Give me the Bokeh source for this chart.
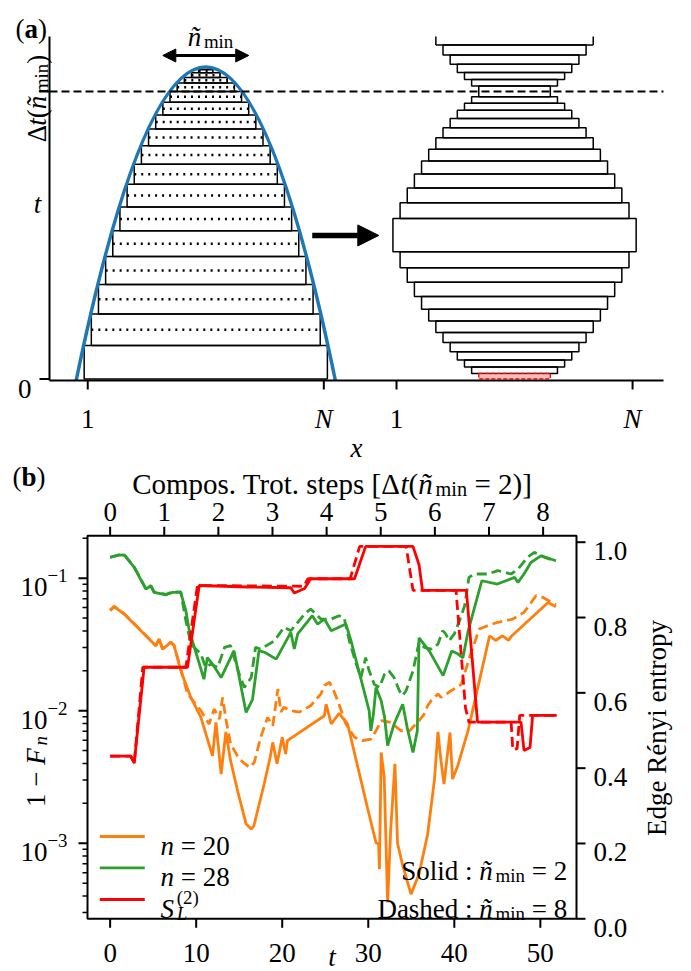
import math
from bokeh.plotting import figure
from bokeh.models import Range1d, LinearScale, Label, Arrow, NormalHead
from bokeh.embed import file_html
from bokeh.resources import INLINE

FONT = "Liberation Serif"
FS = 27
ORANGE = "#ff7f0e"
GREEN = "#2ca02c"
BLUE = "#1f77b4"

# ---------------- panel (a): Trotter-step schematic ----------------
n_sites = 34
# duration of each layer of the light-cone staircase (outermost first)
level_durations = [0.116, 0.110, 0.102, 0.098, 0.089, 0.083, 0.079, 0.070, 0.064,
                   0.058, 0.049, 0.044, 0.038, 0.029, 0.019, 0.017, 0.010]
nmin_level = 12            # layer whose width equals n_min
right_offset = 1.308       # where the second (symmetrised) drawing starts on x
parabola_center = 0.5
parabola_halfwidth = 0.549
parabola_peak = 1.0845

# ---------------- panel (b): infidelity and edge entropy ----------------
t_n20_solid = [0.0, 0.47, 1.63, 3.57, 5.31, 5.70, 6.09, 7.06, 7.44, 8.22, 9.38, 10.55, 11.9,
               12.3, 12.9, 13.45, 14.0, 14.8, 15.8, 16.4, 16.7, 17.9, 18.6, 18.9, 19.4, 20.0,
               20.4, 20.6, 24.9, 25.1, 25.7, 26.6, 27.6, 28.8, 29.9, 30.9, 31.2, 31.3, 31.5,
               31.85, 32.25, 32.6, 33.1, 33.4, 34.0, 34.97, 35.9, 36.9, 37.7, 38.1, 38.4, 38.8,
               39.5, 39.8, 40.4, 41.6, 44.1, 44.8, 45.6, 46.3, 46.6, 50.9, 51.8]
f_n20_solid = [0.0569, 0.0610, 0.0537, 0.0402, 0.0309, 0.0348, 0.0292, 0.0328, 0.0309, 0.0200,
               0.0126, 0.00891, 0.00457, 0.00817, 0.00333, 0.00692, 0.00420, 0.00251, 0.00140,
               0.00128, 0.00135, 0.00280, 0.00445, 0.00577, 0.00398, 0.00631, 0.00471, 0.00594,
               0.00916, 0.0112, 0.00794, 0.00955, 0.00794, 0.00372, 0.00186, 0.00101, 0.000986,
               0.000638, 0.00484, 0.00316, 0.000357, 0.00124, 0.00398, 0.00100, 0.00068,
               0.000413, 0.000585, 0.00117, 0.00305, 0.00692, 0.00447, 0.00280, 0.00685,
               0.00305, 0.00385, 0.00708, 0.0368, 0.0339, 0.0368, 0.0339, 0.0363, 0.0656, 0.0610]

t_n20_dashed = [0.0, 0.47, 1.63, 3.57, 5.31, 5.70, 6.09, 7.06, 7.44, 8.22, 9.0, 10.55, 11.5, 12.1,
                12.7, 13.07, 13.45, 14.0, 15.0, 16.2, 16.75, 17.5, 18.3, 18.9, 19.5, 19.85, 20.2,
                21.0, 22.0, 23.3, 24.5, 24.9, 25.5, 26.0, 26.6, 27.4, 28.4, 29.35, 30.3, 30.9,
                31.5, 32.6, 33.8, 34.8, 35.9, 36.5, 36.9, 37.3, 38.1, 38.45, 39.6, 40.8, 41.9,
                42.9, 43.9, 45.05, 46.8, 48.1, 49.5, 50.3, 51.8]
f_n20_dashed = [0.0575, 0.0615, 0.0540, 0.0405, 0.0310, 0.0350, 0.0293, 0.0330, 0.0312, 0.0205,
                0.0134, 0.0100, 0.00794, 0.0103, 0.00865, 0.0126, 0.00865, 0.00562, 0.00432,
                0.00373, 0.00407, 0.00631, 0.00891, 0.00771, 0.0146, 0.00977, 0.0106, 0.0100,
                0.00977, 0.0109, 0.0134, 0.0155, 0.0164, 0.0141, 0.0112, 0.00794, 0.00631,
                0.00594, 0.00611, 0.00706, 0.00841, 0.00817, 0.00706, 0.00706, 0.00841, 0.00944,
                0.0109, 0.0119, 0.0134, 0.0126, 0.0141, 0.0158, 0.0268, 0.0414, 0.0439, 0.0465,
                0.0492, 0.0552, 0.0738, 0.0716, 0.0631]

t_n28_solid = [0.0, 1.0, 1.63, 2.8, 4.15, 4.73, 5.1, 6.5, 7.25, 8.2, 8.8, 9.2, 10.15, 10.9, 11.3,
               11.9, 12.9, 13.65, 14.4, 15.8, 16.55, 17.3, 18.0, 19.3, 21.0, 21.4, 21.8, 23.5,
               24.1, 24.9, 25.7, 27.4, 28.0, 28.8, 29.5, 30.1, 30.3, 30.6, 30.9, 31.5, 31.9,
               32.25, 33.0, 34.0, 34.6, 35.2, 35.7, 35.9, 37.1, 38.7, 39.7, 40.4, 41.0, 41.6,
               43.2, 45.0, 47.0, 47.4, 48.1, 48.9, 50.1, 51.8]
f_n28_solid = [0.1435, 0.1496, 0.1503, 0.1208, 0.0828, 0.0877, 0.0782, 0.0750, 0.0782, 0.0782,
               0.0569, 0.0402, 0.0252, 0.0173, 0.0252, 0.0225, 0.0178, 0.0225, 0.0284, 0.0097,
               0.0122, 0.0284, 0.0275, 0.0245, 0.0390, 0.0292, 0.0380, 0.0521, 0.0451, 0.0492,
               0.0402, 0.0452, 0.0337, 0.0212, 0.0142, 0.0100, 0.00706, 0.00944, 0.0150, 0.0119,
               0.00891, 0.00545, 0.00794, 0.0112, 0.00706, 0.00484, 0.00706, 0.0355, 0.0282,
               0.0184, 0.0282, 0.0269, 0.0251, 0.0398, 0.0957, 0.0904, 0.1014, 0.0931, 0.1076,
               0.1315, 0.1479, 0.1355]

t_n28_dashed = [0.0, 1.0, 1.63, 2.8, 4.15, 4.73, 5.1, 6.5, 7.25, 8.2, 8.8, 9.4, 10.55, 11.1, 11.7,
                12.5, 13.3, 14.0, 15.0, 15.6, 16.4, 16.9, 17.5, 19.1, 20.2, 21.0, 22.6, 23.3,
                24.5, 25.7, 26.6, 27.2, 27.8, 28.6, 29.15, 29.7, 30.1, 30.7, 31.3, 31.9, 32.4,
                33.0, 33.6, 34.0, 34.4, 35.2, 35.9, 36.5, 37.3, 38.1, 38.65, 39.0, 39.4, 40.0,
                40.6, 41.2, 41.7, 42.3, 43.9, 45.05, 46.6, 47.4, 48.5, 49.3, 50.5, 51.8]
f_n28_dashed = [0.1440, 0.1500, 0.1508, 0.1215, 0.0835, 0.0880, 0.0790, 0.0755, 0.0790, 0.0790,
                0.0478, 0.0318, 0.0268, 0.0212, 0.0225, 0.0212, 0.0301, 0.0310, 0.0189, 0.0150,
                0.0178, 0.0301, 0.0292, 0.0337, 0.0426, 0.0402, 0.0537, 0.0586, 0.0492, 0.0492,
                0.0521, 0.0501, 0.0337, 0.0225, 0.0178, 0.0252, 0.0200, 0.0158, 0.0150, 0.0189,
                0.0200, 0.0178, 0.0142, 0.0130, 0.0142, 0.0200, 0.0328, 0.0301, 0.0292, 0.0318,
                0.0402, 0.0380, 0.0337, 0.0380, 0.0478, 0.0619, 0.1014, 0.1076, 0.1076, 0.1140,
                0.1076, 0.1172, 0.1435, 0.1567, 0.1435, 0.1349]

t_renyi_solid = [0, 2.4, 2.8, 3.95, 9.0, 10.35, 16.0, 21.0, 21.4, 22.6, 23.3, 28.4, 29.7, 35.2,
                 35.9, 36.3, 41.4, 42.7, 47.75, 48.1, 48.8, 49.1, 51.9]
s_renyi_solid = [0.432, 0.432, 0.413, 0.668, 0.668, 0.885, 0.881, 0.879, 0.865, 0.877, 0.903,
                 0.903, 0.989, 0.989, 0.94, 0.872, 0.872, 0.522, 0.522, 0.447, 0.455, 0.540, 0.540]
t_renyi_dashed = [0, 2.4, 2.8, 3.8, 8.8, 10.15, 22.5, 23.0, 27.9, 29.0, 34.4, 35.2, 40.2, 41.3,
                  41.7, 46.6, 46.8, 47.3, 47.6, 51.9]
s_renyi_dashed = [0.432, 0.432, 0.413, 0.668, 0.668, 0.885, 0.883, 0.903, 0.903, 0.989, 0.989,
                  0.872, 0.872, 0.56, 0.522, 0.522, 0.449, 0.452, 0.540, 0.540]

step_length = 6.29          # one composite Trotter step in units of t
t_ticks = [0, 10, 20, 30, 40, 50]
step_ticks = [0, 1, 2, 3, 4, 5, 6, 7, 8]
entropy_ticks = [0.0, 0.2, 0.4, 0.6, 0.8, 1.0]
infidelity_ticks = [1e-3, 1e-2, 1e-1]
infidelity_exponents = ["3", "2", "1"]

# ---------------- rich text (sub/superscripts) built from Labels ----------------
RM = {' ': 250, '(': 333, ')': 333, '[': 333, ']': 333, '.': 250, ':': 278, '=': 564,
      '\u2212': 564, 'a': 444, 'b': 500, 'c': 444, 'd': 500, 'e': 444, 'f': 333, 'g': 500,
      'h': 500, 'i': 278, 'j': 278, 'k': 500, 'l': 278, 'm': 778, 'n': 500, 'o': 500,
      'p': 500, 'q': 500, 'r': 333, 's': 389, 't': 278, 'u': 500, 'v': 500, 'w': 722,
      'x': 500, 'y': 500, 'z': 444, 'C': 667, 'D': 722, 'E': 611, 'F': 556, 'L': 611,
      'N': 722, 'R': 667, 'S': 556, 'T': 611, '\u00e9': 444, '\u00f1': 500, '\u0394': 612}
for _d in "0123456789":
    RM[_d] = 500
IT = {'n': 500, 't': 278, 'x': 444, 'F': 611, 'N': 667, 'S': 500, 'L': 556, '\u00f1': 500}
BF = {'a': 500, 'b': 556}


def text_width(s, style):
    tab = IT if style in ("it", "subit") else (BF if style == "bf" else RM)
    return sum(tab.get(c, RM.get(c, 500)) for c in s) / 1000.0


def rich(fig, canvas_h, X, Y, pieces, size=FS, align="left", vertical=False, color="black"):
    """Place a run of text pieces; X, Y is the baseline anchor in canvas pixels (y down)."""
    widths = []
    for i, pc in enumerate(pieces):
        txt, st = pc[0], pc[1]
        adv = pc[2] if len(pc) > 2 else True
        sc = 0.7 if st in ("sub", "subit", "sup") else 1.0
        w = text_width(txt, st) * size * sc if adv else 0.0
        # small italic correction before a following script
        if st == "it" and i + 1 < len(pieces) and pieces[i + 1][1] in ("sub", "subit", "sup"):
            w += 0.1 * size
        widths.append(w)
    total = sum(widths)
    pos = {"left": 0.0, "center": -total / 2.0, "right": -total}[align]
    for pc, w in zip(pieces, widths):
        txt, st = pc[0], pc[1]
        small = st in ("sub", "subit", "sup")
        sz = size * 0.7 if small else size
        rise = -0.2 * size if st in ("sub", "subit") else (0.42 * size if st == "sup" else 0.0)
        fstyle = "italic" if st in ("it", "subit") else ("bold" if st == "bf" else "normal")
        lead = len(txt) - len(txt.lstrip(" "))
        shift = text_width(" " * lead, st) * sz
        body = txt.strip(" ")
        p0 = pos + shift
        if body:
            if vertical:
                sx, sy, ang = X - rise, canvas_h - Y + p0, math.pi / 2
            else:
                sx, sy, ang = X + p0, canvas_h - Y + rise, 0.0
            fig.add_layout(Label(x=sx, y=sy, x_units="screen", y_units="screen", text=body,
                                 angle=ang, text_font=FONT, text_font_size=f"{sz:.1f}px",
                                 text_font_style=fstyle, text_color=color,
                                 text_align="left", text_baseline="alphabetic"))
        pos += w


def bare_figure(w, h, xr, yr, **kw):
    f = figure(width=w, height=h, x_range=xr, y_range=yr, output_backend="svg",
               toolbar_location=None, min_border=0, x_axis_location=None,
               y_axis_location=None, **kw)
    f.outline_line_color = None
    f.grid.visible = False
    return f


# ================= panel (a) =================
WA, HA = 691, 462
A_L, A_R, A_T, A_B = 49.0, 663.0, 36.0, 380.0     # plotting box inside the canvas (px)
AX0, AX1 = -0.162, 2.439
AY0, AY1 = -0.0056, 1.191
kxa = (A_R - A_L) / (AX1 - AX0)
kya = (A_B - A_T) / (AY1 - AY0)
pa = bare_figure(WA, HA, Range1d(AX0 - A_L / kxa, AX1 + (WA - A_R) / kxa),
                 Range1d(AY0 - (HA - A_B) / kya, AY1 + A_T / kya))

site_w = 1.0 / (n_sites - 1)
lefts, rights, bottoms, tops = [], [], [], []
acc = 0.0
for k, d in enumerate(level_durations):
    lefts.append((k - 0.5) * site_w)
    rights.append((n_sites - 1 - k + 0.5) * site_w)
    bottoms.append(acc)
    tops.append(acc + d)
    acc += d
dt_nmin = tops[nmin_level]

pa.quad(left=lefts, right=rights, bottom=bottoms, top=tops,
        fill_color=None, line_color="black", line_width=1.5)
mids = [(b + t) / 2 for b, t in zip(bottoms[1:], tops[1:])]
pa.segment(x0=lefts[1:], y0=mids, x1=rights[1:], y1=mids,
           line_color="black", line_width=2.5, line_dash="2 5")

# symmetrised (second-order) stack on the right
half = [d / 2 for d in level_durations]
boxes = []


def add_box(k, bottom, height):
    boxes.append((right_offset + (k - 0.5) * site_w,
                  right_offset + (n_sites - 1 - k + 0.5) * site_w,
                  bottom, bottom + height))


yb = half[nmin_level]
inner = list(range(nmin_level - 1, 0, -1))
while yb < AY1:
    for k in inner:
        add_box(k, yb, half[k])
        yb += half[k]
    add_box(0, yb, level_durations[0])
    yb += level_durations[0]
    for k in reversed(inner):
        add_box(k, yb, half[k])
        yb += half[k]
    add_box(nmin_level, yb, level_durations[nmin_level])
    yb += level_durations[nmin_level]

full = [b for b in boxes if b[3] <= AY1]
cut = [b for b in boxes if b[2] < AY1 < b[3]]
pa.quad(left=[b[0] for b in full], right=[b[1] for b in full],
        bottom=[b[2] for b in full], top=[b[3] for b in full],
        fill_color=None, line_color="black", line_width=1.5)
for b in cut:   # boxes running out of the top of the panel: open top
    pa.segment(x0=[b[0], b[0], b[1]], y0=[b[2], b[2], b[2]],
               x1=[b[1], b[0], b[1]], y1=[b[2], AY1, AY1],
               line_color="black", line_width=1.5)

# first half-layer, absorbed into the preceding step
pa.quad(left=[right_offset + (nmin_level - 0.5) * site_w],
        right=[right_offset + (n_sites - 1 - nmin_level + 0.5) * site_w],
        bottom=[0.0], top=[half[nmin_level]], fill_color="#ff8080",
        fill_alpha=0.55, line_color="red", line_width=1.3, line_dash="4 2")

# light-cone boundary
pa.quadratic(x0=[parabola_center - parabola_halfwidth], y0=[AY0],
             x1=[parabola_center + parabola_halfwidth], y1=[AY0],
             cx=[parabola_center], cy=[2 * parabola_peak - AY0],
             line_color=BLUE, line_width=3.5)

pa.segment(x0=[AX0], y0=[dt_nmin], x1=[AX1], y1=[dt_nmin],
           line_color="black", line_width=2, line_dash="8 4")

pa.add_layout(Arrow(start=NormalHead(size=13, fill_color="black", line_color="black"),
                    end=NormalHead(size=13, fill_color="black", line_color="black"),
                    x_start=0.318, y_start=1.125, x_end=0.682, y_end=1.125,
                    line_width=3, line_color="black"))
pa.add_layout(Arrow(end=NormalHead(size=21, fill_color="black", line_color="black"),
                    x_start=0.951, y_start=0.499, x_end=1.233, y_end=0.499,
                    line_width=5.5, line_color="black"))

# axes of panel (a)
pa.segment(x0=[AX0, AX0], y0=[AY0, AY0], x1=[AX0, AX1], y1=[AY1, AY0],
           line_color="black", line_width=2)
a_xticks = [0, 1, right_offset, right_offset + 1]
pa.segment(x0=a_xticks, y0=[AY0] * 4, x1=a_xticks, y1=[AY0 - 9 / kya] * 4,
           line_color="black", line_width=2)
pa.segment(x0=[AX0] * 2, y0=[0, dt_nmin], x1=[AX0 - 10 / kxa] * 2, y1=[0, dt_nmin],
           line_color="black", line_width=2)


def ax_px(x):
    return A_L + (x - AX0) * kxa


rich(pa, HA, 15, 28, [("(", "rm"), ("a", "bf"), (")", "rm")])
rich(pa, HA, 210, 36, [("\u00f1", "it"), ("min", "sub")], align="center")
rich(pa, HA, 31, 388, [("0", "rm")], align="right")
rich(pa, HA, 37, 203, [("t", "it")], align="center")
rich(pa, HA, 36, 98, [("\u0394", "rm"), ("t", "it"), ("(", "rm"), ("\u00f1", "it"),
                      ("min", "sub"), (")", "rm")], align="center", vertical=True)
for xv, lab in zip(a_xticks, [("1", "rm"), ("N", "it"), ("1", "rm"), ("N", "it")]):
    rich(pa, HA, ax_px(xv), 418, [lab], align="center")
rich(pa, HA, (A_L + A_R) / 2, 447, [("x", "it")], align="center")

# ================= panel (b) =================
OFF = HA                                           # panel (b) starts below panel (a)
WB, HB = 691, 971 - HA
B_L, B_R, B_T, B_B = 87.0, 576.0, 535.3 - OFF, 918.3 - OFF
T0, T1 = -2.63, 54.2
F0, F1 = 2.69e-4, 0.209
S0, S1 = 0.0, 1.017
kxb = (B_R - B_L) / (T1 - T0)
dec = (B_B - B_T) / (math.log10(F1) - math.log10(F0))
ksb = (B_B - B_T) / (S1 - S0)
pb = bare_figure(WB, HB, Range1d(T0 - B_L / kxb, T1 + (WB - B_R) / kxb),
                 Range1d(10 ** (math.log10(F0) - (HB - B_B) / dec),
                         10 ** (math.log10(F1) + B_T / dec)),
                 y_axis_type="log")
pb.extra_y_ranges = {"ent": Range1d(S0 - (HB - B_B) / ksb, S1 + B_T / ksb)}
pb.extra_y_scales = {"ent": LinearScale()}

LW = 2.8
pb.line(t_n20_solid, f_n20_solid, line_color=ORANGE, line_width=LW)
pb.line(t_n20_dashed, f_n20_dashed, line_color=ORANGE, line_width=LW, line_dash="10 5")
pb.line(t_n28_solid, f_n28_solid, line_color=GREEN, line_width=LW)
pb.line(t_n28_dashed, f_n28_dashed, line_color=GREEN, line_width=LW, line_dash="10 5")
pb.line(t_renyi_solid, s_renyi_solid, line_color="red", line_width=LW, y_range_name="ent")
pb.line(t_renyi_dashed, s_renyi_dashed, line_color="red", line_width=LW, line_dash="10 5",
        y_range_name="ent")

# frame and ticks of panel (b)
pb.quad(left=[T0], right=[T1], bottom=[F0], top=[F1], fill_color=None,
        line_color="black", line_width=2)
down9 = 10 ** (-9 / dec)
pb.segment(x0=t_ticks, y0=[F0] * len(t_ticks), x1=t_ticks, y1=[F0 * down9] * len(t_ticks),
           line_color="black", line_width=2)
step_x = [s * step_length for s in step_ticks]
pb.segment(x0=step_x, y0=[F1] * len(step_x), x1=step_x, y1=[F1 / down9] * len(step_x),
           line_color="black", line_width=2)
pb.segment(x0=[T0] * 3, y0=infidelity_ticks, x1=[T0 - 9 / kxb] * 3, y1=infidelity_ticks,
           line_color="black", line_width=2)
minor = [m * 10.0 ** e for e in (-4, -3, -2, -1) for m in range(2, 10)]
minor = [v for v in minor if F0 < v < F1]
pb.segment(x0=[T0] * len(minor), y0=minor, x1=[T0 - 5 / kxb] * len(minor), y1=minor,
           line_color="black", line_width=1.5)
pb.segment(x0=[T1] * len(entropy_ticks), y0=entropy_ticks,
           x1=[T1 + 9 / kxb] * len(entropy_ticks), y1=entropy_ticks,
           line_color="black", line_width=2, y_range_name="ent")


def bx_px(t):
    return B_L + (t - T0) * kxb


def by_log(v):
    return B_T + (math.log10(F1) - math.log10(v)) * dec


def by_ent(s):
    return B_B - (s - S0) * ksb


for t in t_ticks:
    rich(pb, HB, bx_px(t), 952 - OFF, [(str(t), "rm")], align="center")
for s, x in zip(step_ticks, step_x):
    rich(pb, HB, bx_px(x), 511.7 - OFF, [(str(s), "rm")], align="center")
for s in entropy_ticks:
    rich(pb, HB, B_R + 17, by_ent(s) + 9, [(f"{s:.1f}", "rm")])
for v, ex in zip(infidelity_ticks, infidelity_exponents):
    rich(pb, HB, 67, by_log(v) + 9, [("10", "rm"), ("\u2212" + ex, "sup")], align="right")

# legend
for yl, col in [(836, ORANGE), (867.3, GREEN), (899, "red")]:
    pb.add_layout(Arrow(x_start=99.3, y_start=HB - (yl - OFF), x_end=144.3,
                        y_end=HB - (yl - OFF), start_units="screen", end_units="screen",
                        end=None, line_color=col, line_width=LW))
rich(pb, HB, 160, 845 - OFF, [("n", "it"), (" = 20", "rm")])
rich(pb, HB, 160, 876 - OFF, [("n", "it"), (" = 28", "rm")])
rich(pb, HB, 160, 908 - OFF, [("S", "it"), ("L", "subit", False), ("(2)", "sup")])

rich(pb, HB, 566.7, 870 - OFF, [("Solid : ", "rm"), ("\u00f1", "it"), ("min", "sub"),
                                (" = 2", "rm")], align="right")
rich(pb, HB, 566.7, 908 - OFF, [("Dashed : ", "rm"), ("\u00f1", "it"), ("min", "sub"),
                                (" = 8", "rm")], align="right")

mid_x = (B_L + B_R) / 2
rich(pb, HB, 12, 476 - OFF, [("(", "rm"), ("b", "bf"), (")", "rm")])
rich(pb, HB, mid_x, 483 - OFF, [("Compos. Trot. steps [\u0394", "rm"), ("t", "it"),
                                ("(", "rm"), ("\u00f1", "it"), ("min", "sub"),
                                (" = 2)]", "rm")], size=29, align="center")
rich(pb, HB, 35, 771 - OFF, [("1 \u2212 ", "rm"), ("F", "it"), ("n", "subit")],
     align="center", vertical=True)
rich(pb, HB, 656, 727.5 - OFF, [("Edge R\u00e9nyi entropy", "rm")], align="center",
     vertical=True)
rich(pb, HB, mid_x, 956 - OFF, [("t", "it")], align="center")

open("out.html", "w").write(file_html([pa, pb], INLINE))
